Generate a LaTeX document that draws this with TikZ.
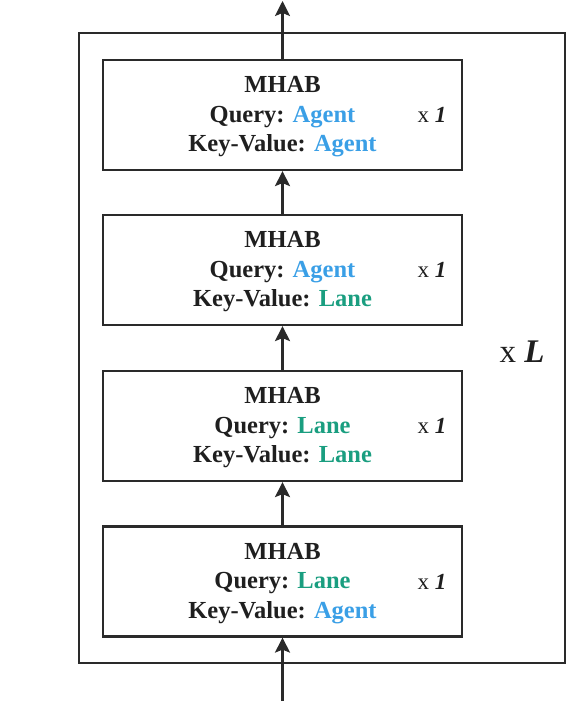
\documentclass[tikz,border=0pt]{standalone}
\usepackage{fontspec}
\setmainfont{Liberation Serif}
\usetikzlibrary{arrows.meta}
\definecolor{agentc}{HTML}{3A9FE6}
\definecolor{lanec}{HTML}{1A9E80}
\definecolor{linec}{HTML}{2A2A2A}
\begin{document}
\begin{tikzpicture}[x=1pt,y=-1pt,
  blk/.style={draw=linec,line width=2.2pt,minimum width=359pt,minimum height=110pt,inner sep=0pt},
  txt/.style={align=center,inner sep=0pt,font=\fontsize{24.5}{29.5}\selectfont\bfseries,text=black!88},
  rep/.style={font=\fontsize{23}{28}\selectfont,text=black!88},
  arr/.style={draw=linec,line width=2.2pt,-{Stealth[length=15pt,width=15pt,inset=3pt]}}]
\useasboundingbox (0,0) rectangle (568,708);
\node[draw=linec,line width=2.2pt,minimum width=486pt,minimum height=630pt,inner sep=0pt] (outer) at (322,348) {};
\node[blk] (b1) at (282.5,115) {};
\node[blk] (b2) at (282.5,270) {};
\node[blk] (b3) at (282.5,426) {};
\node[blk] (b4) at (282.5,581.5) {};
\node[txt] (t1) at (282.5,117) {MHAB\\Query: \textcolor{agentc}{Agent}\\Key-Value: \textcolor{agentc}{Agent}};
\node[txt] (t2) at (282.5,272) {MHAB\\Query: \textcolor{agentc}{Agent}\\Key-Value: \textcolor{lanec}{Lane}};
\node[txt] (t3) at (282.5,428) {MHAB\\Query: \textcolor{lanec}{Lane}\\Key-Value: \textcolor{lanec}{Lane}};
\node[txt] (t4) at (282.5,583.5) {MHAB\\Query: \textcolor{lanec}{Lane}\\Key-Value: \textcolor{agentc}{Agent}};
\node[rep] (r1) at (432,115) {x \textbf{\textit{1}}};
\node[rep] (r2) at (432,270) {x \textbf{\textit{1}}};
\node[rep] (r3) at (432,426) {x \textbf{\textit{1}}};
\node[rep] (r4) at (432,581.5) {x \textbf{\textit{1}}};
\node[font=\fontsize{33}{38}\selectfont,text=black!88] (rl) at (522,352) {x \textbf{\textit{L}}};
\coordinate (top) at (282.5,1);
\coordinate (bot) at (282.5,701);
\draw[arr] (b1.north) -- (top);
\draw[arr] (b2.north) -- (b1.south);
\draw[arr] (b3.north) -- (b2.south);
\draw[arr] (b4.north) -- (b3.south);
\draw[arr] (bot) -- (b4.south);
\end{tikzpicture}
\end{document}
